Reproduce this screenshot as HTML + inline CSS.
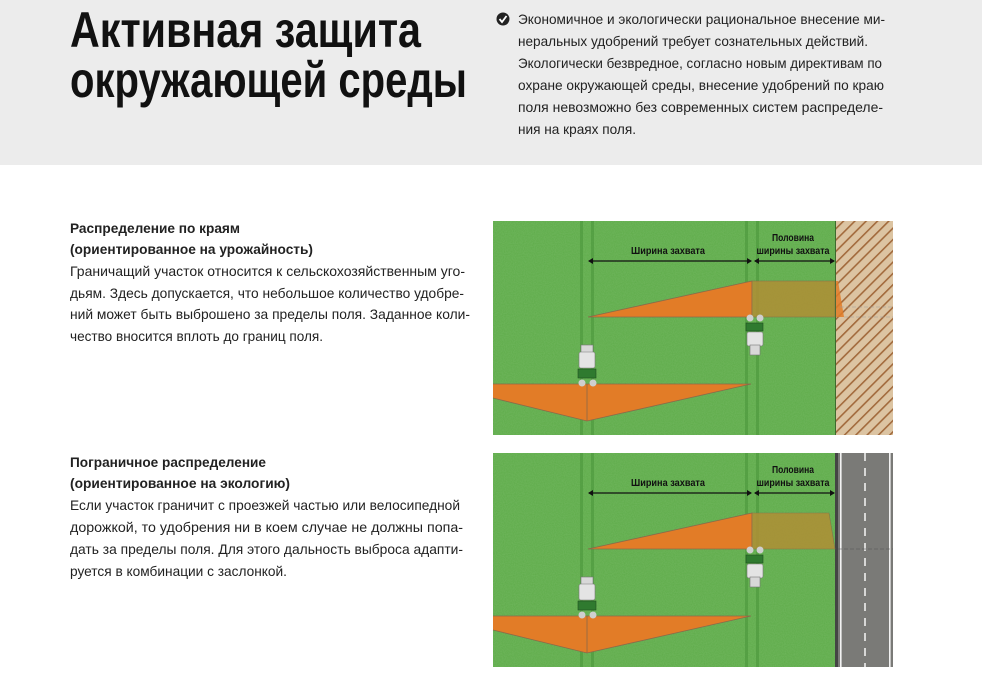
<!DOCTYPE html>
<html><head><meta charset="utf-8"><style>
html,body{margin:0;padding:0;background:#fff}
svg{display:block}
text{font-family:"Liberation Sans",Arial,sans-serif}
</style></head><body>
<svg width="982" height="680" viewBox="0 0 982 680" xmlns="http://www.w3.org/2000/svg">
<defs>
<pattern id="hatch" patternUnits="userSpaceOnUse" width="8" height="8" patternTransform="rotate(45)">
<rect width="8" height="8" fill="#dcc4a2"/>
<rect x="0" y="0" width="1.6" height="8" fill="#a26a3c"/>
</pattern>
<filter id="noise" x="0" y="0" width="100%" height="100%">
<feTurbulence type="fractalNoise" baseFrequency="0.9" numOctaves="1" seed="3" result="n"/>
<feColorMatrix in="n" type="matrix" values="0 0 0 0 0.3  0 0 0 0 0.6  0 0 0 0 0.25  0 0 0 0.35 0" result="c"/>
<feComposite in="c" in2="SourceGraphic" operator="in"/>
</filter>
<g id="tracks">
<rect x="580" y="0" width="3" height="214" fill="#4f9a3f" opacity="0.7"/>
<rect x="591" y="0" width="3" height="214" fill="#4f9a3f" opacity="0.7"/>
<rect x="745" y="0" width="3" height="214" fill="#4f9a3f" opacity="0.7"/>
<rect x="756" y="0" width="3" height="214" fill="#4f9a3f" opacity="0.7"/>
</g>
<g id="tr1">
<rect x="581" y="345" width="12" height="8" fill="#d8d8d8" stroke="#777" stroke-width="0.6"/>
<rect x="579" y="352" width="16" height="16" rx="2" fill="#e4e4e4" stroke="#777" stroke-width="0.6"/>
<rect x="578" y="369" width="18" height="9" fill="#2f7a2f" stroke="#1e4f1e" stroke-width="0.6"/>
<circle cx="582" cy="383" r="3.5" fill="#cfcfcf"/>
<circle cx="593" cy="383" r="3.5" fill="#cfcfcf"/>
</g>
<g id="tr2">
<circle cx="750" cy="318" r="3.5" fill="#cfcfcf"/>
<circle cx="760" cy="318" r="3.5" fill="#cfcfcf"/>
<rect x="746" y="323" width="17" height="8" fill="#2f7a2f" stroke="#1e4f1e" stroke-width="0.6"/>
<rect x="747" y="332" width="16" height="14" rx="2" fill="#e4e4e4" stroke="#777" stroke-width="0.6"/>
<rect x="750" y="345" width="10" height="10" fill="#d8d8d8" stroke="#777" stroke-width="0.6"/>
</g>
<g id="labels">
<text x="668" y="254" font-size="10" font-weight="bold" text-anchor="middle" fill="#111" textLength="74" lengthAdjust="spacingAndGlyphs">Ширина захвата</text>
<text x="793" y="241" font-size="10" font-weight="bold" text-anchor="middle" fill="#111" textLength="42" lengthAdjust="spacingAndGlyphs">Половина</text>
<text x="793" y="254" font-size="10" font-weight="bold" text-anchor="middle" fill="#111" textLength="73" lengthAdjust="spacingAndGlyphs">ширины захвата</text>
<line x1="589" y1="261" x2="751" y2="261" stroke="#111" stroke-width="1.2"/>
<line x1="755" y1="261" x2="834" y2="261" stroke="#111" stroke-width="1.2"/>
<path d="M588 261 l5 -3 v6z M752 261 l-5 -3 v6z M754 261 l5 -3 v6z M835 261 l-5 -3 v6z" fill="#111"/>
</g>
<g id="sprays">
<polygon points="588,317 752,281 752,317" fill="#e27c27" stroke="#8a6a4a" stroke-width="0.8"/>
<polygon points="493,384 751,384 587,421 493,398" fill="#e27c27"/>
<path d="M493,384 L751,384 M587,384 V421 M493,398 L587,421 L751,384" stroke="#8a6a4a" stroke-width="0.8" fill="none"/>
</g>
</defs>

<rect x="0" y="0" width="982" height="165" fill="#ececec"/>
<text x="70" y="47" font-size="50" font-weight="bold" fill="#111" textLength="351" lengthAdjust="spacingAndGlyphs">Активная защита</text>
<text x="70" y="97" font-size="50" font-weight="bold" fill="#111" textLength="397" lengthAdjust="spacingAndGlyphs">окружающей среды</text>
<circle cx="503" cy="19" r="6.5" fill="#222"/>
<path d="M499.5 19 l2.5 3 l4.5 -6" stroke="#fff" stroke-width="1.8" fill="none"/>
<g font-size="14" fill="#222">
<text x="518" y="24" textLength="367" lengthAdjust="spacingAndGlyphs">Экономичное и экологически рациональное внесение ми-</text>
<text x="518" y="46" textLength="350" lengthAdjust="spacingAndGlyphs">неральных удобрений требует сознательных действий.</text>
<text x="518" y="68" textLength="364" lengthAdjust="spacingAndGlyphs">Экологически безвредное, согласно новым директивам по</text>
<text x="518" y="90" textLength="366" lengthAdjust="spacingAndGlyphs">охране окружающей среды, внесение удобрений по краю</text>
<text x="518" y="112" textLength="365" lengthAdjust="spacingAndGlyphs">поля невозможно без современных систем распределе-</text>
<text x="518" y="134" textLength="118" lengthAdjust="spacingAndGlyphs">ния на краях поля.</text>
</g>

<g font-size="14" fill="#222">
<text x="70" y="233" font-weight="bold" textLength="170" lengthAdjust="spacingAndGlyphs">Распределение по краям</text>
<text x="70" y="254" font-weight="bold" textLength="243" lengthAdjust="spacingAndGlyphs">(ориентированное на урожайность)</text>
<text x="70" y="276" textLength="395" lengthAdjust="spacingAndGlyphs">Граничащий участок относится к сельскохозяйственным уго-</text>
<text x="70" y="298" textLength="394" lengthAdjust="spacingAndGlyphs">дьям. Здесь допускается, что небольшое количество удобре-</text>
<text x="70" y="319" textLength="400" lengthAdjust="spacingAndGlyphs">ний может быть выброшено за пределы поля. Заданное коли-</text>
<text x="70" y="341" textLength="253" lengthAdjust="spacingAndGlyphs">чество вносится вплоть до границ поля.</text>

<text x="70" y="467" font-weight="bold" textLength="196" lengthAdjust="spacingAndGlyphs">Пограничное распределение</text>
<text x="70" y="488" font-weight="bold" textLength="220" lengthAdjust="spacingAndGlyphs">(ориентированное на экологию)</text>
<text x="70" y="510" textLength="390" lengthAdjust="spacingAndGlyphs">Если участок граничит с проезжей частью или велосипедной</text>
<text x="70" y="532" textLength="393" lengthAdjust="spacingAndGlyphs">дорожкой, то удобрения ни в коем случае не должны попа-</text>
<text x="70" y="554" textLength="393" lengthAdjust="spacingAndGlyphs">дать за пределы поля. Для этого дальность выброса адапти-</text>
<text x="70" y="576" textLength="217" lengthAdjust="spacingAndGlyphs">руется в комбинации с заслонкой.</text>
</g>

<rect x="493" y="221" width="343" height="214" fill="#5dab48"/>
<rect x="493" y="221" width="343" height="214" fill="#5dab48" filter="url(#noise)"/>
<g transform="translate(0,221)"><use href="#tracks"/></g>
<rect x="836" y="221" width="57" height="214" fill="url(#hatch)"/>
<line x1="835.5" y1="221" x2="835.5" y2="435" stroke="#3d6a2e" stroke-width="1"/>
<use href="#labels"/>
<use href="#sprays"/>
<rect x="752" y="281" width="83" height="36" fill="#b08f35" opacity="0.85" stroke="#8a6a4a" stroke-width="0.6"/>
<polygon points="836,281 838,281 844,317 836,317" fill="#e27c27" opacity="0.85"/>
<path d="M844 317 H893 M840 307 H893" stroke="#999" stroke-width="0.6" stroke-dasharray="4 2" fill="none"/>
<use href="#tr1"/>
<use href="#tr2"/>

<rect x="493" y="453" width="343" height="214" fill="#5dab48"/>
<rect x="493" y="453" width="343" height="214" fill="#5dab48" filter="url(#noise)"/>
<g transform="translate(0,453)"><use href="#tracks"/></g>
<rect x="835" y="453" width="58" height="214" fill="#7a7a77"/>
<rect x="835" y="453" width="3" height="214" fill="#444"/>
<rect x="840" y="453" width="1.6" height="214" fill="#f2f2f2"/>
<rect x="889" y="453" width="1.6" height="214" fill="#f2f2f2"/>
<line x1="865" y1="453" x2="865" y2="667" stroke="#eee" stroke-width="1.6" stroke-dasharray="8 7"/>
<g transform="translate(0,232)">
<use href="#labels"/>
<use href="#sprays"/>
<polygon points="752,281 829,281 835,317 752,317" fill="#b08f35" opacity="0.85" stroke="#8a6a4a" stroke-width="0.6"/>
<path d="M838 317 H893" stroke="#555" stroke-width="0.6" stroke-dasharray="4 2"/>
<use href="#tr1"/>
<use href="#tr2"/>
</g>
</svg>
</body></html>
